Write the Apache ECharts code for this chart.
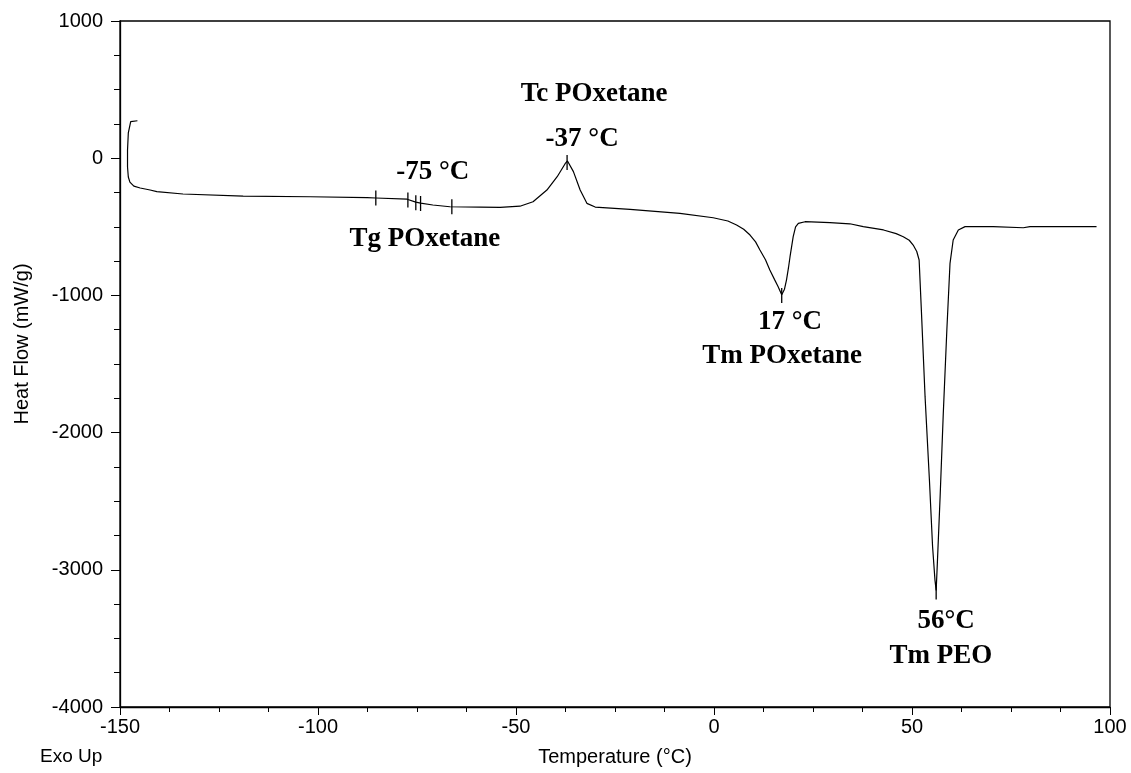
<!DOCTYPE html>
<html>
<head>
<meta charset="utf-8">
<script src="https://cdn.jsdelivr.net/npm/echarts@6/dist/echarts.min.js"></script>
<style>
  html, body { margin: 0; padding: 0; background: #fff; }
  #chart { width: 1131px; height: 773px; }
</style>
</head>
<body>
<div id="chart"></div>
<script>
// DSC trace (temperature in °C, heat flow in mW/g)
const temperature = [
  -145.6, -147.3, -147.9, -148.1, -148.1, -147.9, -147.5, -146.5, -144.9, -142.4,
  -140.7, -134.1, -118.9, -102, -87.6, -85.4, -77.5, -75.3, -74.1, -71,
  -66.7, -59, -54, -49, -45.7, -42.2, -39.6, -37.6, -37.0, -35.5,
  -33.8, -32.1, -30, -21.2, -8.6, -0.2, 3.5, 5.7, 7.5, 9.1, 10.5, 11.6, 13, 14.1,
  15.3, 16.2, 17.1, 17.8, 18.3, 18.8, 19.2, 20, 20.6, 21.3, 23, 29.3, 34.3, 37.7,
  42.8, 46, 47.8, 49.3, 50.3, 51.2, 51.8, 52.4, 53.3, 54.4, 55.2, 55.8, 56.1,
  56.4, 57.1, 57.9, 58.8, 59.6, 60.4, 61.7, 63.4, 70.5, 78.1,
  79.8, 88.2, 96.6
];
const heatFlow = [
  273, 267, 184, 60, -64, -137, -174, -203, -217, -232,
  -243, -261, -276, -281, -288, -290, -299, -320, -328, -341,
  -354, -356, -358, -350, -317, -232, -135, -40, -20, -98,
  -232, -329, -356, -373, -402, -434, -458, -487, -518, -560, -610, -669, -740, -815,
  -885, -937, -995, -955, -888, -800, -718, -572, -500, -475, -463, -470, -478, -499,
  -523, -550, -572, -598, -633, -680, -742, -1131, -1738, -2346, -2832, -3075, -3150,
  -2953, -2467, -1860, -1252, -766, -596, -523, -499, -499, -507,
  -499, -499, -499
];

// analysis cursor marks drawn on the trace
const markTemps = [-85.4, -77.3, -75.3, -74.1, -66.2, -37.1, 17.1, 56.1];
const markFlows = [-290, -305, -324, -330, -354, -31, -1001, -3162];

// annotation texts and where they sit
const noteTemps = [-30.3, -33.3, -71, -73, 19.2, 17.2, 58.6, 57.3];
const noteFlows = [468, 140, -100, -589, -1194, -1442, -3373, -3628];
const noteTexts = ['Tc POxetane', '-37 °C', '-75 °C', 'Tg POxetane', '17 °C', 'Tm POxetane', '56°C', 'Tm PEO'];

const xTicks = { min: -150, max: 100, interval: 50 };
const yTicks = { min: -4000, max: 1000, interval: 1000 };

const chart = echarts.init(document.getElementById('chart'));

const axisFont = { fontFamily: 'Liberation Sans', fontSize: 20, color: '#000' };

chart.setOption({
  animation: false,
  backgroundColor: '#fff',
  grid: {
    left: 120, right: 21, top: 21, bottom: 66,
    show: true, borderColor: '#000', borderWidth: 1.3
  },
  xAxis: {
    type: 'value',
    min: xTicks.min, max: xTicks.max, interval: xTicks.interval,
    name: 'Temperature (°C)',
    nameLocation: 'middle',
    nameGap: 40,
    nameTextStyle: axisFont,
    axisLine: { onZero: false, lineStyle: { color: '#000', width: 1.3 } },
    axisTick: { length: 8, lineStyle: { color: '#000' } },
    minorTick: { show: true, splitNumber: 4, length: 5, lineStyle: { color: '#000' } },
    axisLabel: Object.assign({ margin: 10, formatter: v => String(v) }, axisFont),
    splitLine: { show: false }
  },
  yAxis: {
    type: 'value',
    min: yTicks.min, max: yTicks.max, interval: yTicks.interval,
    name: 'Heat Flow (mW/g)',
    nameLocation: 'middle',
    nameGap: 88,
    nameTextStyle: Object.assign({}, axisFont, { padding: [0, 0, 0, 40] }),
    axisLine: { onZero: false, lineStyle: { color: '#000', width: 1.3 } },
    axisTick: { length: 9, lineStyle: { color: '#000' } },
    minorTick: { show: true, splitNumber: 4, length: 6, lineStyle: { color: '#000' } },
    axisLabel: Object.assign({ margin: 17, formatter: v => String(v) }, axisFont),
    splitLine: { show: false }
  },
  graphic: [{
    type: 'text',
    left: 40,
    top: 747,
    style: { text: 'Exo Up', font: '19px "Liberation Sans"', fill: '#000' }
  }],
  series: [
    {
      type: 'line',
      data: temperature.map((t, i) => [t, heatFlow[i]]),
      showSymbol: false,
      lineStyle: { color: '#000', width: 1.2 },
      z: 3
    },
    {
      type: 'scatter',
      data: markTemps.map((t, i) => [t, markFlows[i]]),
      symbol: 'rect',
      symbolSize: [1.3, 15],
      itemStyle: { color: '#000', opacity: 1 },
      z: 4
    },
    {
      type: 'scatter',
      data: noteTemps.map((t, i) => [t, noteFlows[i], noteTexts[i]]),
      symbolSize: 0,
      itemStyle: { opacity: 1 },
      label: {
        show: true,
        position: 'inside',
        formatter: p => p.data[2],
        fontFamily: 'Liberation Serif',
        fontWeight: 'bold',
        fontSize: 27,
        color: '#000'
      },
      z: 5
    }
  ]
});
</script>
</body>
</html>
